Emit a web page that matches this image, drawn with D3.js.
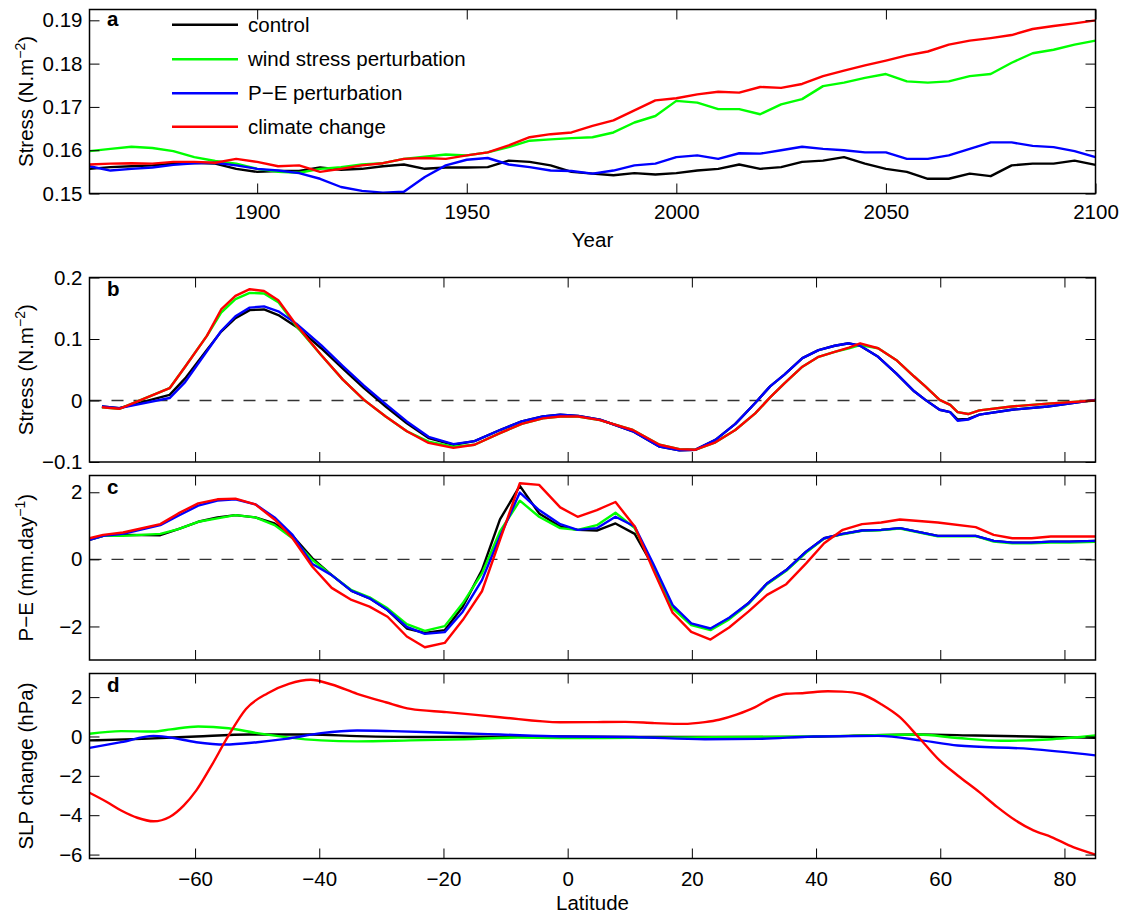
<!DOCTYPE html>
<html>
<head>
<meta charset="utf-8">
<title>Stress, P-E and SLP change</title>
<script src="https://cdn.jsdelivr.net/npm/d3@7"></script>
<style>
  body { margin: 0; background: #fff; }
  svg { font-family: "Liberation Sans", Arial, Helvetica, sans-serif; }
</style>
</head>
<body>
<svg id="chart" width="1126" height="915"></svg>
<script>
// ---------- data ----------
const seriesNames = ["control", "wind stress perturbation", "P\u2212E perturbation", "climate change"];
const seriesColors = ["#000000", "#00ff00", "#0000ff", "#ff0000"];

// (a) stress time series, one value every 5 years 1860-2100
const years = d3.range(1860, 2101, 5);
const stressControl = [.1557,.1561,.1563,.1565,.1569,.1571,.1569,.1557,.1550,.1552,.1552,.1560,.1555,.1557,.1563,.1567,.1557,.1560,.1560,.1561,.1576,.1573,.1565,
  .1550,.1546,.1542,.1547,.1544,.1547,.1553,.1557,.1567,.1557,.1561,.1573,.1576,.1584,.1569,.1557,.1550,.1534,.1534,.1546,.1540,.1565,.1569,.1569,.1576,.1566];
const stressWind = [.1598,.1603,.1608,.1605,.1598,.1584,.1575,.1569,.1557,.1550,.1548,.1557,.1561,.1567,.1570,.1580,.1585,.1590,.1588,.1595,.1607,.1622,.1625,
  .1628,.1630,.1641,.1664,.1679,.1714,.1710,.1695,.1695,.1683,.1706,.1718,.1748,.1756,.1767,.1776,.1759,.1756,.1759,.1771,.1776,.1802,.1824,.1832,.1844,.1853];
const stressPE = [.1563,.1553,.1557,.1560,.1566,.1570,.1571,.1565,.1557,.1553,.1547,.1534,.1515,.1506,.1502,.1504,.1538,.1565,.1578,.1582,.1567,.1561,.1553,
  .1552,.1546,.1553,.1565,.1569,.1584,.1588,.1580,.1593,.1592,.1600,.1608,.1603,.1600,.1595,.1595,.1580,.1580,.1588,.1603,.1618,.1618,.1610,.1607,.1598,.1584];
const stressClimate = [.1567,.1569,.1570,.1569,.1573,.1573,.1571,.1580,.1573,.1563,.1565,.1550,.1557,.1565,.1570,.1580,.1582,.1580,.1588,.1595,.1611,.1630,.1637,
  .1641,.1656,.1669,.1692,.1715,.1720,.1729,.1735,.1733,.1746,.1744,.1753,.1771,.1784,.1796,.1807,.1819,.1828,.1844,.1853,.1859,.1866,.1880,.1887,.1893,.1900];

// (b) zonal wind stress against latitude
const latB = [-75,-72.2,-64.1,-61.6,-58.1,-55.8,-53.5,-51.2,-48.9,-46.6,-43.7,-39.7,-36.2,-32.8,-29.3,-25.9,-22.4,-18.4,-15,-10.9,-7.4,-4,
  -1.2,1.7,5.2,10.5,14.8,18,20.6,23.8,27,30.2,32.6,34.9,37.8,40.4,43,45.3,47.1,50,52.9,55.8,57.6,59.9,61.6,62.8,64.5,66.3,71.5,77.3,85];
const tauControl = [-.0097,-.0124,.0092,.036,.082,.112,.134,.147,.148,.139,.12,.085,.052,.02,-.0097,-.037,-.061,-.072,-.066,-.048,-.034,-.026,
  -.023,-.025,-.031,-.05,-.075,-.081,-.08,-.064,-.038,-.004,.023,.042,.069,.082,.089,.093,.089,.071,.044,.015,.001,-.015,-.019,-.031,-.030,-.023,-.015,-.0097,.001];
const tauWind = [-.011,-.0135,.02,.055,.105,.143,.165,.175,.174,.16,.121,.074,.034,.001,-.026,-.05,-.067,-.075,-.072,-.053,-.038,-.029,
  -.026,-.026,-.032,-.048,-.072,-.079,-.08,-.068,-.048,-.021,.005,.028,.055,.071,.079,.085,.09,.085,.066,.039,.023,.001,-.007,-.019,-.022,-.016,-.0097,-.005,0];
const tauPE = [-.0097,-.0124,.004,.03,.08,.113,.137,.151,.153,.145,.125,.09,.056,.024,-.006,-.034,-.059,-.071,-.066,-.048,-.034,-.026,
  -.023,-.025,-.031,-.05,-.075,-.081,-.08,-.064,-.038,-.004,.023,.042,.069,.082,.089,.093,.089,.071,.044,.015,.001,-.015,-.019,-.033,-.031,-.023,-.015,-.0097,.001];
const tauClimate = [-.011,-.0135,.02,.055,.105,.148,.17,.181,.178,.163,.123,.074,.034,.001,-.026,-.05,-.069,-.077,-.072,-.053,-.038,-.029,
  -.026,-.026,-.032,-.048,-.072,-.079,-.08,-.068,-.048,-.021,.005,.028,.055,.071,.079,.086,.093,.085,.066,.039,.023,.001,-.007,-.019,-.022,-.016,-.0097,-.005,0];

// (c) P-E against latitude
const latC = [-77,-74.8,-71.6,-65.6,-62.7,-59.5,-56.4,-53.5,-50.3,-47.2,-44.3,-41.1,-38,-34.8,-31.9,-29,-25.9,-23,-19.8,-16.9,-13.8,-10.9,-7.7,-4.6,-1.2,
  1.6,4.7,7.7,10.8,13.8,16.9,19.9,23,26,29.1,32.1,35.2,38.4,41.3,44.3,47.4,50.5,53.5,59.6,65.7,68.6,71.6,74.7,77.8,80.8,85];
const peControl = [.58,.7,.73,.72,.9,1.12,1.25,1.32,1.25,1.07,.7,.03,-.47,-.94,-1.16,-1.51,-2.06,-2.19,-2.11,-1.41,-.32,1.19,2.19,1.37,.98,
  .88,.86,1.07,.76,-.22,-1.41,-1.93,-2.08,-1.76,-1.31,-.72,-.32,.23,.63,.76,.86,.88,.93,.7,.7,.55,.5,.5,.53,.53,.55];
const peWind = [.6,.7,.7,.76,.9,1.12,1.22,1.32,1.25,1.02,.63,-.02,-.47,-.92,-1.13,-1.46,-1.93,-2.13,-1.99,-1.31,-.42,.83,1.75,1.27,.93,
  .88,1.02,1.39,.93,-.22,-1.46,-1.96,-2.11,-1.79,-1.33,-.74,-.34,.2,.62,.75,.85,.87,.92,.69,.69,.53,.48,.48,.5,.5,.52];
const pePE = [.58,.7,.76,1.02,1.3,1.6,1.75,1.79,1.64,1.25,.73,-.14,-.47,-.94,-1.16,-1.51,-2.01,-2.22,-2.17,-1.56,-.62,.68,1.99,1.47,1.05,
  .88,.93,1.27,.98,-.14,-1.36,-1.91,-2.06,-1.74,-1.31,-.72,-.32,.23,.63,.76,.86,.88,.93,.7,.7,.55,.5,.5,.53,.53,.55];
const peClimate = [.63,.73,.8,1.05,1.37,1.67,1.79,1.81,1.64,1.19,.63,-.22,-.85,-1.21,-1.41,-1.71,-2.3,-2.62,-2.49,-1.81,-.95,.58,2.27,2.22,1.55,
  1.27,1.47,1.71,.98,-.32,-1.59,-2.16,-2.39,-2.03,-1.56,-1.06,-.74,-.12,.48,.88,1.05,1.1,1.19,1.1,.96,.73,.63,.63,.68,.68,.68];

// (d) SLP change against latitude
const slpLatControl = [-77,-68.5,-59.8,-51.2,-41.4,-33.9,-22.4,-1.2,10,22,34,45.3,56.4,65.7,74.4,85];
const slpControl = [-.2,-.12,0,.1,.1,.02,-.03,0,-.03,-.03,-.03,.03,.1,.05,0,-.07];
const slpLatWind = [-77,-71.9,-66.7,-63.9,-59.5,-54.6,-50,-45.4,-39.7,-33.9,-25.3,-16.6,-8,-1.2,10.5,27.9,45.3,56.4,62.8,69.8,77.3,85];
const slpWind = [.14,.27,.25,.36,.51,.42,.17,-.03,-.2,-.25,-.2,-.14,-.06,-.08,-.07,-.03,.03,.1,-.08,-.22,-.15,.05];
const slpLatPE = [-77,-71.9,-66.7,-64.4,-59.8,-55.2,-50,-45.4,-39.7,-33.9,-28.2,-19.5,-10.9,-1.2,10.5,22.1,30.8,39.5,50,57,62.8,74.4,85];
const slpPE = [-.58,-.29,.03,-.03,-.29,-.41,-.29,-.12,.17,.3,.27,.19,.1,0,-.03,-.14,-.12,0,.03,-.2,-.46,-.63,-.96];
const slpLatClimate = [-77,-74.2,-71.9,-69.3,-66.7,-64.1,-61.8,-59.8,-57.5,-54.6,-51.8,-48.3,-44.9,-41.4,-38,-33.9,-29.3,-25.3,-19.5,-10.9,-1.2,
  4.7,9.3,14,18.6,22.1,24.4,27.3,30.2,32.6,35.2,37.8,41.9,44.2,47.1,50.6,53.5,56.4,59.9,62.8,66.3,69.2,72.1,75,77.9,81.4,85];
const slpClimate = [-2.86,-3.33,-3.76,-4.13,-4.31,-4.09,-3.5,-2.74,-1.56,.05,1.4,2.2,2.67,2.88,2.64,2.17,1.74,1.4,1.24,.98,.72,
  .73,.74,.68,.64,.73,.85,1.12,1.49,1.91,2.17,2.2,2.3,2.28,2.17,1.62,.98,0,-1.22,-1.98,-2.83,-3.59,-4.26,-4.77,-5.11,-5.62,-6.0];

// tick values
const yearTicks = [1900, 1950, 2000, 2050, 2100];
const latTicks = [-60, -40, -20, 0, 20, 40, 60, 80];

// ---------- layout ----------
const LEFT = 89.5, RIGHT = 1095.5;
const FONT = 20.5;
const svg = d3.select("#chart");

const xYear = d3.scaleLinear().domain([1860, 2100]).range([LEFT, RIGHT]);
const xLat = d3.scaleLinear().domain([-77, 85]).range([LEFT, RIGHT]);

/**
 * draws one boxed panel with inward ticks on all four sides
 */
function drawPanel(p) {
  const g = svg.append("g");
  const y = d3.scaleLinear().domain(p.yDomain).range([p.bottom, p.top]);

  const clipId = "clip-" + p.letter;
  g.append("clipPath").attr("id", clipId)
    .append("rect").attr("x", LEFT).attr("y", p.top)
    .attr("width", RIGHT - LEFT).attr("height", p.bottom - p.top);

  if (p.zero) {
    g.append("line")
      .attr("x1", LEFT).attr("x2", RIGHT)
      .attr("y1", y(0)).attr("y2", y(0))
      .attr("stroke", "#333").attr("stroke-width", 1.3)
      .attr("stroke-dasharray", "12,10");
  }

  const lines = g.append("g").attr("clip-path", `url(#${clipId})`);
  p.series.forEach((s, i) => {
    const line = d3.line()
      .x(d => p.x(d[0]))
      .y(d => y(d[1]))
      .curve(p.curve || d3.curveLinear);
    lines.append("path")
      .datum(d3.zip(s.xs, s.ys))
      .attr("fill", "none")
      .attr("stroke", seriesColors[i])
      .attr("stroke-width", 2.4)
      .attr("stroke-linejoin", "round")
      .attr("d", line);
  });

  const styleAxis = a => {
    a.select(".domain").remove();
    a.attr("font-size", FONT).attr("font-family", null);
    a.selectAll("text").attr("fill", "#000");
    a.selectAll("line").attr("stroke", "#000");
  };

  g.append("g").attr("transform", `translate(${LEFT},0)`)
    .call(d3.axisLeft(y).tickValues(p.yTicks).tickFormat(p.yFmt)
      .tickSizeInner(-10).tickSizeOuter(0).tickPadding(7))
    .call(styleAxis);
  g.append("g").attr("transform", `translate(${RIGHT},0)`)
    .call(d3.axisRight(y).tickValues(p.yTicks).tickFormat("")
      .tickSizeInner(-10).tickSizeOuter(0))
    .call(styleAxis);
  g.append("g").attr("transform", `translate(0,${p.bottom})`)
    .call(d3.axisBottom(p.x).tickValues(p.xTicks)
      .tickFormat(p.xLabels ? d3.format("d") : "")
      .tickSizeInner(-10).tickSizeOuter(0).tickPadding(p.xPad || 12))
    .call(styleAxis);
  g.append("g").attr("transform", `translate(0,${p.top})`)
    .call(d3.axisTop(p.x).tickValues(p.xTicks).tickFormat("")
      .tickSizeInner(-10).tickSizeOuter(0))
    .call(styleAxis);

  g.append("rect")
    .attr("x", LEFT).attr("y", p.top)
    .attr("width", RIGHT - LEFT).attr("height", p.bottom - p.top)
    .attr("fill", "none").attr("stroke", "#000").attr("stroke-width", 1.5);

  // panel letter
  g.append("text")
    .attr("x", 107).attr("y", p.top + (p.letterDy || 18))
    .attr("font-size", FONT).attr("font-weight", "bold")
    .text(p.letter);

  // y axis title, with optional superscript
  const t = g.append("text")
    .attr("transform", `translate(33,${(p.top + p.bottom) / 2}) rotate(-90)`)
    .attr("text-anchor", "middle")
    .attr("font-size", FONT);
  t.append("tspan").text(p.ylabel[0]);
  if (p.ylabel.length > 1) {
    t.append("tspan").attr("dy", -8).attr("font-size", 14).text(p.ylabel[1]);
    t.append("tspan").attr("dy", 8).text(p.ylabel[2]);
  }
  return { g, y };
}

const fmtB = d => d === 0 ? "0" : d3.format(".1f")(d);

// (a)
const pa = drawPanel({
  letter: "a", top: 9.5, bottom: 193.5, letterDy: 16,
  x: xYear, xTicks: yearTicks, xLabels: true, xPad: 11,
  yDomain: [0.15, 0.1925], yTicks: [0.15, 0.16, 0.17, 0.18, 0.19], yFmt: d3.format(".2f"),
  ylabel: ["Stress (N.m", "\u22122", ")"],
  series: [stressControl, stressWind, stressPE, stressClimate].map(ys => ({ xs: years, ys }))
});

// legend inside panel a
const legendY = [24.7, 59.3, 93.3, 126.7];
seriesNames.forEach((name, i) => {
  pa.g.append("line")
    .attr("x1", 172).attr("x2", 238)
    .attr("y1", legendY[i]).attr("y2", legendY[i])
    .attr("stroke", seriesColors[i]).attr("stroke-width", 2.4);
  pa.g.append("text")
    .attr("x", 248).attr("y", legendY[i]).attr("dy", "0.35em")
    .attr("font-size", FONT).text(name);
});

svg.append("text")
  .attr("x", (LEFT + RIGHT) / 2).attr("y", 247)
  .attr("text-anchor", "middle").attr("font-size", FONT).text("Year");

// (b)
drawPanel({
  letter: "b", top: 277.5, bottom: 462, zero: true,
  x: xLat, xTicks: latTicks, xLabels: false,
  yDomain: [-0.1, 0.2], yTicks: [-0.1, 0, 0.1, 0.2], yFmt: fmtB,
  ylabel: ["Stress (N.m", "\u22122", ")"],
  series: [tauControl, tauWind, tauPE, tauClimate].map(ys => ({ xs: latB, ys }))
});

// (c)
drawPanel({
  letter: "c", top: 475.5, bottom: 660, zero: true,
  x: xLat, xTicks: latTicks, xLabels: false,
  yDomain: [-3, 2.5], yTicks: [-2, 0, 2], yFmt: d3.format("d"),
  ylabel: ["P\u2212E (mm.day", "\u22121", ")"],
  series: [peControl, peWind, pePE, peClimate].map(ys => ({ xs: latC, ys }))
});

// (d)
drawPanel({
  letter: "d", top: 673.5, bottom: 858.5,
  x: xLat, xTicks: latTicks, xLabels: true, xPad: 13,
  yDomain: [-6.2, 3.2], yTicks: [-6, -4, -2, 0, 2], yFmt: d3.format("d"),
  ylabel: ["SLP change (hPa)"],
  curve: d3.curveMonotoneX,
  series: [
    { xs: slpLatControl, ys: slpControl },
    { xs: slpLatWind, ys: slpWind },
    { xs: slpLatPE, ys: slpPE },
    { xs: slpLatClimate, ys: slpClimate }
  ]
});

svg.append("text")
  .attr("x", (LEFT + RIGHT) / 2).attr("y", 910)
  .attr("text-anchor", "middle").attr("font-size", FONT).text("Latitude");
</script>
</body>
</html>
